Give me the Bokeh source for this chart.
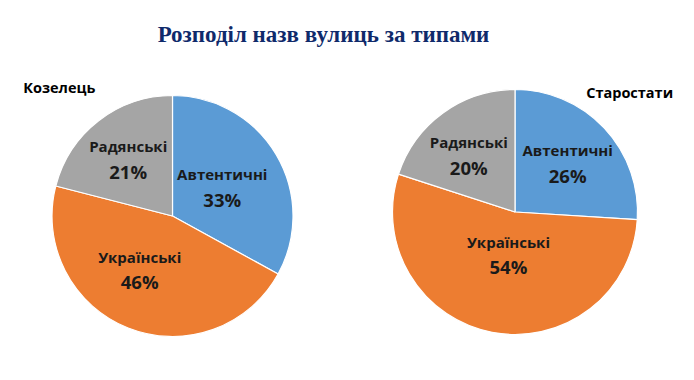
import math
from bokeh.plotting import figure
from bokeh.models import Range1d
from bokeh.core.properties import value
from bokeh.embed import file_html
from bokeh.resources import INLINE

# ---- data ----
title_text = "Розподіл назв вулиць за типами"
categories = ["Автентичні", "Українські", "Радянські"]
pie_titles = ["Козелець", "Старостати"]
kozelets = [33, 46, 21]
starostaty = [26, 54, 20]

# ---- styles / layout ----
colors = ["#5B9BD5", "#ED7D31", "#A5A5A5"]
W, H = 678, 364
centers = [(172, 148.5), (514.5, 152.5)]
radii = [120.5, 122.5]
label_frac = [[0.48, 0.52, 0.60], [0.59, 0.35, 0.60]]
label_nudge_deg = [[0, 10, 0], [0, -2, -3]]
title_pos = [(22.7, 277.5, "left"), (585.7, 272.5, "left")]
FONT = value("Open Sans")

p = figure(width=W, height=H, output_backend="svg", toolbar_location=None,
           x_range=Range1d(0, W), y_range=Range1d(0, H), min_border=0)
p.axis.visible = False
p.grid.visible = False
p.outline_line_color = None
p.background_fill_color = "white"
p.border_fill_color = "white"

for (cx, cy), r, vals, fr, nd, (tx, ty, ta), pt in zip(
        centers, radii, [kozelets, starostaty], label_frac, label_nudge_deg,
        title_pos, pie_titles):
    total = float(sum(vals))
    cum = 0.0
    starts, ends, lx, ly = [], [], [], []
    for v, f, n in zip(vals, fr, nd):
        a0 = cum / total
        a1 = (cum + v) / total
        starts.append(math.pi / 2 - 2 * math.pi * a0)
        ends.append(math.pi / 2 - 2 * math.pi * a1)
        mid = 2 * math.pi * (a0 + a1) / 2 + math.radians(n)
        lx.append(cx + f * r * math.sin(mid))
        ly.append(cy + f * r * math.cos(mid))
        cum += v
    p.wedge(x=[cx] * len(vals), y=[cy] * len(vals), radius=r,
            start_angle=starts, end_angle=ends, direction="clock",
            fill_color=colors, line_color="white", line_width=1.2)
    p.text(x=lx, y=[y + 12.5 for y in ly], text=categories,
           text_font=FONT, text_font_style="bold", text_font_size="15px",
           text_align="center", text_baseline="middle", text_color="#1a1a1a")
    p.text(x=lx, y=[y - 12.5 for y in ly], text=[f"{v}%" for v in vals],
           text_font=FONT, text_font_style="bold", text_font_size="18.5px",
           text_align="center", text_baseline="middle", text_color="#1a1a1a")
    p.text(x=[tx], y=[ty], text=[pt], text_font=FONT, text_font_style="bold",
           text_font_size="14.5px", text_align=ta, text_baseline="alphabetic",
           text_color="#000000")

p.text(x=[323], y=[329.7], text=[title_text], text_font=value("Liberation Serif"),
       text_font_style="bold", text_font_size="23px", text_align="center",
       text_baseline="alphabetic", text_color="#0F2A6B")

open("out.html", "w").write(file_html(p, INLINE))
